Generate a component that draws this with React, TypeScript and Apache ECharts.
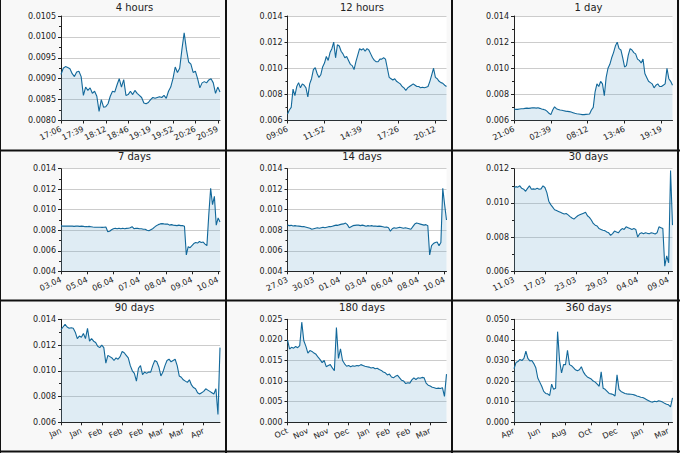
import React, { useEffect, useRef } from "react";
import * as echarts from "echarts";

const titles = ["4 hours", "12 hours", "1 day", "7 days", "14 days", "30 days", "90 days", "180 days", "360 days"];

const ticks4h = ["17:06", "17:39", "18:12", "18:46", "19:19", "19:52", "20:26", "20:59"];
const ticks12h = ["09:06", "11:52", "14:39", "17:26", "20:12"];
const ticks1d = ["21:06", "02:39", "08:12", "13:46", "19:19"];
const ticks7d = ["03.04", "05.04", "06.04", "07.04", "08.04", "09.04", "10.04"];
const ticks14d = ["27.03", "30.03", "01.04", "03.04", "06.04", "08.04", "10.04"];
const ticks30d = ["11.03", "17.03", "23.03", "29.03", "04.04", "09.04"];
const ticks90d = ["Jan", "Jan", "Feb", "Feb", "Feb", "Mar", "Mar", "Apr"];
const ticks180d = ["Oct", "Nov", "Nov", "Dec", "Jan", "Feb", "Feb", "Mar"];
const ticks360d = ["Apr", "Jun", "Aug", "Oct", "Dec", "Jan", "Mar"];

const values4h = [
  0.0091, 0.00925, 0.00929, 0.00927, 0.00924, 0.00912, 0.00905, 0.00916, 0.00918, 0.00905,
  0.0086, 0.0088, 0.00872, 0.00878, 0.00865, 0.0087, 0.00858, 0.00822, 0.0085, 0.00832,
  0.00833, 0.0084, 0.00858, 0.0087, 0.00868, 0.00885, 0.009, 0.0088, 0.00898, 0.0086,
  0.00862, 0.0087, 0.00862, 0.00872, 0.00865, 0.0086, 0.00855, 0.00842, 0.0084, 0.00843,
  0.0085, 0.00855, 0.00853, 0.00855, 0.00857, 0.00855, 0.0086, 0.00853, 0.0087, 0.0088,
  0.009, 0.00928, 0.00915, 0.00925, 0.0097, 0.0101, 0.0097, 0.0094, 0.00935, 0.00915,
  0.00918, 0.009, 0.00878, 0.0089, 0.00893, 0.0089, 0.00897, 0.009, 0.0089, 0.00865,
  0.0088, 0.00868,
];

const values12h = [
  0.0065, 0.0068, 0.007, 0.0084, 0.0079, 0.0086, 0.0089, 0.0085, 0.0088, 0.0087,
  0.0085, 0.0078, 0.0088, 0.0092, 0.0099, 0.01005, 0.0096, 0.0093, 0.0095, 0.0101,
  0.0104, 0.0109, 0.0106, 0.0112, 0.0115, 0.012, 0.0108, 0.0118, 0.0117, 0.0113,
  0.0111, 0.0108, 0.0109, 0.0106, 0.0103, 0.0102, 0.0099, 0.0105, 0.011, 0.0115,
  0.0114, 0.0115, 0.0113, 0.0115, 0.0114, 0.0111, 0.0108, 0.0106, 0.0105, 0.0105,
  0.0107, 0.0107, 0.0108, 0.0107, 0.01, 0.0093, 0.0092, 0.0091, 0.0092, 0.009,
  0.0089, 0.0088, 0.0086, 0.0085, 0.0083, 0.0085, 0.0086, 0.0087, 0.0088, 0.0087,
  0.0086, 0.0086, 0.0085, 0.00855, 0.0085, 0.00855, 0.0086, 0.009, 0.0095, 0.01,
  0.0093, 0.0092, 0.009, 0.0089, 0.00885, 0.0087, 0.0086,
];

const values1d = [
  0.0069, 0.00685, 0.00685, 0.00688, 0.0069, 0.0069, 0.00693, 0.00695, 0.00693, 0.00695,
  0.00697, 0.00697, 0.00695, 0.00697, 0.00693, 0.00688, 0.00685, 0.0068, 0.0067, 0.00655,
  0.00645, 0.0068, 0.00705, 0.0069, 0.00685, 0.0068, 0.00678, 0.00675, 0.00672, 0.0067,
  0.00668, 0.00665, 0.0066, 0.00655, 0.00652, 0.0065, 0.00648, 0.00645, 0.00645, 0.00647,
  0.00648, 0.0065, 0.0068, 0.007, 0.0082, 0.0088, 0.0086, 0.009, 0.0088, 0.0079,
  0.0093, 0.01, 0.0103, 0.0108, 0.0112, 0.0117, 0.012, 0.0115, 0.0114, 0.0108,
  0.0101, 0.0102, 0.011, 0.0115, 0.0114, 0.0112, 0.0111, 0.0107, 0.0106, 0.0104,
  0.0107, 0.0096, 0.0093, 0.009, 0.0089, 0.0088, 0.0085, 0.0087, 0.0088, 0.0086,
  0.0086, 0.0087, 0.0088, 0.01, 0.0092, 0.009, 0.0087,
];

const values7d = [
  0.00845, 0.0084, 0.00842, 0.0084, 0.0084, 0.00842, 0.0084, 0.00838, 0.0084, 0.0084,
  0.00838, 0.0084, 0.00838, 0.00835, 0.00835, 0.00838, 0.00835, 0.00832, 0.0083, 0.0083,
  0.0083, 0.0083, 0.00828, 0.0083, 0.00832, 0.00785, 0.0079, 0.00805, 0.00815, 0.0082,
  0.00815, 0.0082, 0.00815, 0.0082, 0.00815, 0.00818, 0.0082, 0.00825, 0.00835, 0.00815,
  0.0082, 0.00818, 0.00815, 0.00815, 0.0081, 0.0081, 0.008, 0.00795, 0.00805, 0.00815,
  0.0083, 0.00845, 0.00855, 0.00862, 0.00865, 0.00862, 0.0086, 0.0086, 0.0085, 0.00855,
  0.0085, 0.00848, 0.00845, 0.0085, 0.00845, 0.00845, 0.0084, 0.0056, 0.0064, 0.0063,
  0.0065, 0.0067, 0.0068, 0.00675, 0.0069, 0.0068, 0.00685, 0.00665, 0.0065, 0.0095,
  0.0121, 0.0105, 0.0113, 0.0085, 0.0092, 0.0088,
];

const values14d = [
  0.0085, 0.00845, 0.00848, 0.00842, 0.00845, 0.00842, 0.0084, 0.00838, 0.00835, 0.00835,
  0.0083, 0.00825, 0.0082, 0.0081, 0.00815, 0.0082, 0.00825, 0.0082, 0.00825, 0.0083,
  0.00825, 0.0083, 0.00835, 0.00835, 0.0084, 0.00845, 0.0085, 0.00848, 0.00855, 0.0086,
  0.00862, 0.0087, 0.00855, 0.00825, 0.00835, 0.00845, 0.00848, 0.0085, 0.0085, 0.00845,
  0.0085, 0.00845, 0.0084, 0.00845, 0.00842, 0.00845, 0.0084, 0.00842, 0.00838, 0.0084,
  0.00838, 0.00835, 0.0083, 0.00832, 0.00825, 0.0079, 0.00815, 0.00825, 0.0082, 0.00825,
  0.0083, 0.00825, 0.0082, 0.00825, 0.0082, 0.00815, 0.0081, 0.00835, 0.0086, 0.0087,
  0.00865, 0.0086, 0.00855, 0.0085, 0.00855, 0.00845, 0.0056, 0.0065, 0.0067, 0.0068,
  0.00685, 0.0065, 0.0068, 0.0121, 0.0105, 0.009,
];

const values30d = [
  0.0109, 0.01095, 0.01092, 0.011, 0.01085, 0.0108, 0.01068, 0.01085, 0.011, 0.0108,
  0.01082, 0.0108, 0.01085, 0.0108, 0.01082, 0.011, 0.0109, 0.0106, 0.0101, 0.0099,
  0.00975, 0.0096, 0.00955, 0.0095, 0.00945, 0.0094, 0.00935, 0.00938, 0.0093, 0.0092,
  0.00912, 0.00905, 0.00915, 0.00925, 0.0093, 0.00935, 0.0094, 0.00945, 0.00925, 0.00915,
  0.009, 0.0088, 0.0087, 0.00865, 0.0085, 0.00845, 0.0084, 0.00838, 0.0083, 0.00825,
  0.0081, 0.0082, 0.00835, 0.0083, 0.00825, 0.0084, 0.0085, 0.00845, 0.0086, 0.00855,
  0.0085, 0.00845, 0.0085, 0.00845, 0.008, 0.0082, 0.00825, 0.0082, 0.00825, 0.00822,
  0.0082, 0.00825, 0.00822, 0.00818, 0.00825, 0.0086, 0.00855, 0.0085, 0.0063, 0.0069,
  0.0065, 0.0119, 0.0087,
];

const values90d = [
  0.0132, 0.0134, 0.0136, 0.0134, 0.0133, 0.01335, 0.0133, 0.013, 0.0125, 0.0127,
  0.0126, 0.0129, 0.0125, 0.0133, 0.0123, 0.0125, 0.0123, 0.0122, 0.0119, 0.0118,
  0.012, 0.0118, 0.0106, 0.0112, 0.0111, 0.011, 0.0108, 0.011, 0.0109, 0.0111,
  0.0115, 0.0114, 0.0112, 0.011, 0.0104, 0.01, 0.0098, 0.0092, 0.0102, 0.0104,
  0.0097, 0.0099, 0.0098, 0.0099, 0.0099, 0.0104, 0.0108, 0.0107, 0.0103, 0.0096,
  0.0099, 0.0104, 0.0108, 0.0109, 0.0107, 0.0108, 0.0109, 0.0104, 0.0096, 0.0095,
  0.0093, 0.0092, 0.0091, 0.0093, 0.0089, 0.0087, 0.0086, 0.0083, 0.0082, 0.0083,
  0.0084, 0.0086, 0.0085, 0.0084, 0.0083, 0.0082, 0.0086, 0.0066, 0.0118,
];

const values180d = [
  0.02, 0.0178, 0.0182, 0.018, 0.0184, 0.0181, 0.0186, 0.0243, 0.0198, 0.0185,
  0.0168, 0.0174, 0.0172, 0.0168, 0.0165, 0.0158, 0.0152, 0.0145, 0.015, 0.0135,
  0.0138, 0.014, 0.0132, 0.0125, 0.023, 0.0155, 0.0178, 0.015, 0.0142, 0.0136,
  0.0138, 0.0135, 0.0137, 0.0136, 0.0138, 0.0137, 0.014, 0.0138, 0.0136, 0.0135,
  0.0134, 0.0132, 0.0133, 0.013, 0.0131, 0.0128, 0.0126, 0.0122, 0.012, 0.0115,
  0.0117, 0.011, 0.0108, 0.0112, 0.0114, 0.0108, 0.0102, 0.01, 0.0094, 0.0096,
  0.0095, 0.0103, 0.0108, 0.0104, 0.0108, 0.0107, 0.0109, 0.0108, 0.0095, 0.009,
  0.0088, 0.0085, 0.0084, 0.0082, 0.0083, 0.0082, 0.0084, 0.0063, 0.0117,
];

const values360d = [
  0.026, 0.029, 0.0295, 0.0305, 0.03, 0.031, 0.0345, 0.031, 0.0298, 0.03,
  0.0285, 0.0265, 0.0215, 0.0195, 0.0175, 0.015, 0.014, 0.0138, 0.013, 0.0185,
  0.016, 0.0165, 0.044, 0.03, 0.024, 0.028, 0.028, 0.035, 0.028, 0.0275,
  0.0265, 0.0255, 0.025, 0.0255, 0.027, 0.0245, 0.023, 0.022, 0.0215, 0.021,
  0.02, 0.0195, 0.0185, 0.0175, 0.0245, 0.0165, 0.016, 0.015, 0.014, 0.0138,
  0.0135, 0.0128, 0.023, 0.016, 0.015, 0.0145, 0.014, 0.0138, 0.0137, 0.0136,
  0.0135, 0.0132, 0.0128, 0.0125, 0.0122, 0.012, 0.0115, 0.011, 0.0105, 0.01,
  0.0098, 0.0102, 0.01, 0.0105, 0.0102, 0.0098, 0.0092, 0.0088, 0.0085, 0.0075,
  0.0118,
];

const seriesValues = [values4h, values12h, values1d, values7d, values14d, values30d, values90d, values180d, values360d];
const tickLabels = [ticks4h, ticks12h, ticks1d, ticks7d, ticks14d, ticks30d, ticks90d, ticks180d, ticks360d];
const tickSteps = [10, 20, 20, 14, 14, 16, 10, 10, 13];
const yMins = [0.008, 0.006, 0.006, 0.004, 0.004, 0.006, 0.006, 0, 0];
const yMaxs = [0.0105, 0.014, 0.014, 0.014, 0.014, 0.012, 0.014, 0.025, 0.05];
const yIntervals = [0.0005, 0.002, 0.002, 0.002, 0.002, 0.002, 0.002, 0.005, 0.01];
const yDecimals = [4, 3, 3, 3, 3, 3, 3, 3, 3];

// layout
const colLeft = [61, 287.5, 514];
const colRight = [220, 446.5, 672.5];
const rowTop = [16, 168.7, 319.3];
const rowBottom = [120.5, 271.3, 422.3];
const titleX = [134.5, 362, 588.5];
const titleTop = [2, 151.5, 302.5];

const FONT = "DejaVu Sans";
const TEXT = "#222";
const LINE = "#12689a";
const FILL = "rgba(110,170,205,0.32)";

export default function App() {
  const ref = useRef<HTMLDivElement>(null);
  useEffect(() => {
    if (!ref.current) return;
    const chart = echarts.init(ref.current, null, { renderer: "svg" });
    const grid: any[] = [];
    const xAxis: any[] = [];
    const yAxis: any[] = [];
    const series: any[] = [];
    const title: any[] = [];
    for (let k = 0; k < 9; k++) {
      const col = k % 3;
      const row = Math.floor(k / 3);
      const vals = seriesValues[k];
      const step = tickSteps[k];
      const labels = tickLabels[k];
      const dec = yDecimals[k];
      grid.push({
        left: colLeft[col],
        top: rowTop[row],
        width: colRight[col] - colLeft[col],
        height: rowBottom[row] - rowTop[row],
        show: true,
        backgroundColor: "#ffffff",
        borderWidth: 0,
      });
      xAxis.push({
        type: "category",
        gridIndex: k,
        boundaryGap: false,
        data: vals.map((_, i) => String(i)),
        axisLine: { show: true, onZero: false, lineStyle: { color: TEXT, width: 1 } },
        axisTick: {
          show: true,
          length: 3,
          interval: (i: number) => i % step === 0,
          lineStyle: { color: TEXT, width: 1 },
        },
        axisLabel: {
          interval: (i: number) => i % step === 0,
          formatter: (v: string) => {
            const i = Number(v);
            return i % step === 0 ? labels[i / step] ?? "" : "";
          },
          rotate: 25,
          margin: 8,
          fontSize: 8,
          fontFamily: FONT,
          color: TEXT,
          hideOverlap: false,
        },
        splitLine: { show: false },
      });
      yAxis.push({
        type: "value",
        gridIndex: k,
        min: yMins[k],
        max: yMaxs[k],
        interval: yIntervals[k],
        axisLine: { show: true, lineStyle: { color: TEXT, width: 1 } },
        axisTick: { show: true, length: 3, lineStyle: { color: TEXT, width: 1 } },
        minorTick: { show: true, splitNumber: 2, length: 2, lineStyle: { color: TEXT, width: 1 } },
        axisLabel: {
          formatter: (v: number) => v.toFixed(dec),
          margin: 5,
          fontSize: 8,
          fontFamily: FONT,
          color: TEXT,
        },
        splitLine: { show: true, lineStyle: { color: "#cccccc", width: 1 } },
      });
      series.push({
        type: "line",
        xAxisIndex: k,
        yAxisIndex: k,
        data: vals,
        showSymbol: false,
        symbol: "none",
        lineStyle: { color: LINE, width: 1.1 },
        areaStyle: { color: FILL, origin: "start" },
        silent: true,
      });
      title.push({
        text: titles[k],
        left: titleX[col],
        top: titleTop[row],
        textAlign: "center",
        padding: 0,
        textStyle: { fontSize: 10, fontWeight: "normal", fontFamily: FONT, color: TEXT },
      });
    }
    const border = (x1: number, y1: number, x2: number, y2: number, w: number) => ({
      type: "line",
      silent: true,
      z: 100,
      shape: { x1, y1, x2, y2 },
      style: { stroke: "#111", lineWidth: w },
    });
    chart.setOption({
      animation: false,
      backgroundColor: "#f8f8f8",
      title,
      grid,
      xAxis,
      yAxis,
      series,
      graphic: [
        border(226, 0, 226, 453, 2),
        border(452, 0, 452, 453, 2),
        border(0, 150.5, 680, 150.5, 2),
        border(0, 300.5, 680, 300.5, 2),
        border(0.5, 0, 0.5, 453, 1),
        border(678, 0, 678, 453, 2),
        border(0, 451.5, 680, 451.5, 2),
      ],
    });
    return () => chart.dispose();
  }, []);
  return (
    <div
      ref={ref}
      style={{ position: "fixed", left: 0, top: 0, width: 680, height: 453 }}
    />
  );
}
